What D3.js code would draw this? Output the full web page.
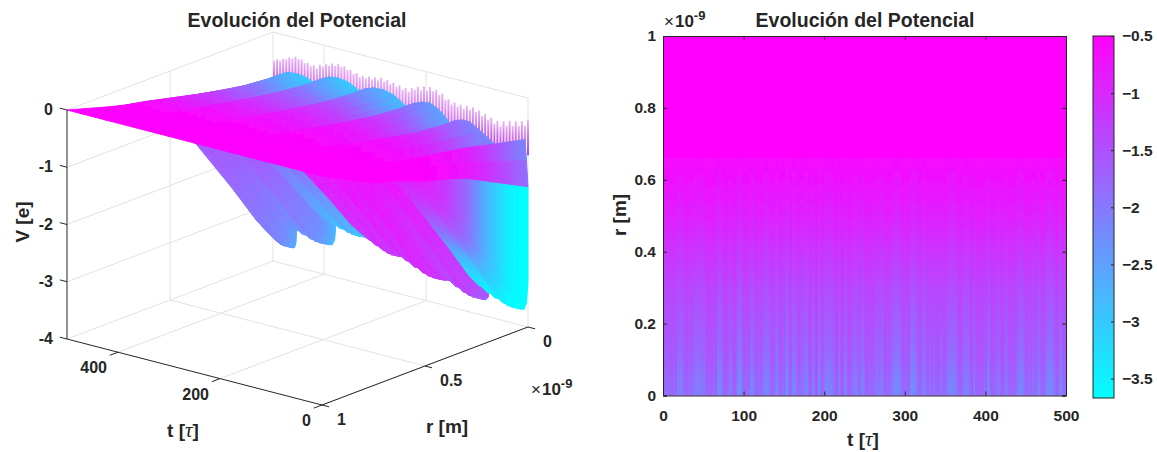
<!DOCTYPE html>
<html>
<head>
<meta charset="utf-8">
<script src="https://cdn.jsdelivr.net/npm/d3@7"></script>
<style>
  html, body { margin: 0; background: #fff; }
  svg { display: block; font-family: "Liberation Sans", Arial, sans-serif; }
  text { fill: #262626; font-weight: bold; }
  .tickTxt { font-size: 16px; }
  .axis text { font-size: 15.5px; font-family: "Liberation Sans", Arial, sans-serif; fill: #262626; }
  .axis path, .axis line { stroke: #262626; }
</style>
</head>
<body>
<div id="chart"></div>
<script>
// values
const titleText = "Evolución del Potencial";
const tTicks = [0, 200, 400];
const rTicks3d = [0, 0.5, 1];
const vTicks = [0, -1, -2, -3, -4];
const heatTTicks = [0, 100, 200, 300, 400, 500];
const heatRTicks = [0, 0.2, 0.4, 0.6, 0.8, 1];
const barTicks = [-0.5, -1, -1.5, -2, -2.5, -3, -3.5];

// upper sheet: V and colour at r = 0 for every t
const crestT = [500, 488, 472, 453, 437, 425, 418, 405, 390, 373, 355, 342, 330, 318, 302, 284, 265, 250, 237, 224, 208, 192, 176, 163, 153, 142, 128, 114, 95, 75, 61, 45, 6, 3, 0];
const crestV = [-0.85, -0.72, -0.64, -0.62, -0.64, -0.68, -0.72, -0.6, -0.53, -0.51, -0.53, -0.58, -0.64, -0.57, -0.52, -0.51, -0.55, -0.63, -0.72, -0.61, -0.55, -0.53, -0.6, -0.7, -0.79, -0.72, -0.68, -0.68, -0.78, -0.9, -0.98, -0.92, -0.74, -1.1, -1.55];
const crestC = [-2.4, -2.5, -2.7, -2.9, -3.0, -3.1, -3.15, -2.4, -2.6, -2.9, -3.0, -3.05, -3.05, -2.3, -2.5, -2.7, -2.8, -2.85, -2.85, -2.1, -2.25, -2.4, -2.5, -2.55, -2.55, -1.8, -1.95, -2.1, -2.15, -2.15, -2.2, -3.0, -2.4, -1.9, -1.8];
const upperR = [1, 0.75, 0.65, 0.5, 0.4, 0.3, 0.2, 0.1, 0.05, 0];
const shapeBack = [0, 0.32, 0.42, 0.6, 0.72, 0.83, 0.93, 0.98, 1, 1];
const shapeFront = [0, 0.3, 0.36, 0.5, 0.56, 0.64, 0.76, 0.88, 0.94, 1];
const tintBack = [0, 0.02, 0.08, 0.22, 0.34, 0.48, 0.62, 0.85, 0.93, 1];
const tintFront = [0, 0, 0, 0.03, 0.08, 0.2, 0.42, 0.72, 0.88, 1];

// deep lobes below the front edge
const lobeTL = [500, 453, 376, 306, 235, 153, 75];
const lobeTR = [453, 376, 306, 235, 153, 75, 0];
const lobeDepth = [-3.68, -3.46, -3.16, -3.34, -3.56, -3.72, -3.72];
const notchV = [-3.4, -3.27, -3.02, -3.09, -3.28, -3.44, -3.49, -3.2];
const lobeR = [0.65, 0.5, 0.4, 0.3, 0.2, 0.1, 0.05, 0];
const lobeShapeR = [0.1, 0.22, 0.38, 0.55, 0.72, 0.9, 0.97, 1];
const lobeU = [0, 0.2, 0.4, 0.6, 0.72, 0.82, 0.9, 0.96, 1];
const lobeWeight = [0, 0.35, 0.62, 0.85, 0.96, 1, 0.97, 0.75, 0];
const lobeStreak = [0.12, 0.04, -0.1, 0.05, 0.1, 0, -0.05, 0];
const lobeColor = [
  [-0.9, -1.4, -1.6, -1.75, -1.9, -2.1, -2.25, -2.6],
  [-0.9, -1.4, -1.6, -1.8, -2.0, -2.2, -2.4, -2.8],
  [-0.9, -1.5, -1.8, -2.1, -2.4, -2.7, -2.95, -3.1],
  [-0.55, -0.7, -0.8, -0.9, -1.0, -1.1, -1.2, -1.3],
  [-0.55, -0.65, -0.75, -0.85, -0.95, -1.05, -1.15, -1.2],
  [-0.55, -0.7, -0.85, -1.0, -1.15, -1.3, -1.5, -1.6],
  [-0.6, -0.9, -1.2, -1.8, -2.75, -3.45, -3.62, -3.67]
];

// thin spikes at r = 0, tip V from t = 498 down to t = 0
const spikeT = d3.range(498, -1, -6);
const spikeTip = [-0.5, -0.46, -0.47, -0.42, -0.42, -0.37, -0.38, -0.33, -0.36, -0.35, -0.4, -0.38, -0.43, -0.4, -0.44, -0.36, -0.38, -0.32, -0.34, -0.28, -0.31,
  -0.26, -0.3, -0.28, -0.33, -0.31, -0.37, -0.34, -0.4, -0.36, -0.39, -0.34, -0.38, -0.33, -0.37, -0.31, -0.36, -0.32, -0.38, -0.34, -0.4, -0.36,
  -0.42, -0.38, -0.43, -0.35, -0.37, -0.3, -0.35, -0.27, -0.33, -0.25, -0.31, -0.27, -0.35, -0.31, -0.41, -0.38, -0.46, -0.41, -0.47, -0.42, -0.48,
  -0.41, -0.47, -0.41, -0.48, -0.44, -0.52, -0.47, -0.56, -0.51, -0.6, -0.54, -0.62, -0.52, -0.58, -0.48, -0.56, -0.46, -0.53, -0.43, -0.5, -0.38];

// heatmap: value at r = 0 for each 2.5 tau column, same r shape for all
const stripeV = [
  -1.6, -1.8, -1.9, -1.7, -1.55, -1.9, -1.7, -2.2, -2.3, -2.2, -1.9, -1.55, -1.8, -1.95, -1.7, -2.2, -2.3, -2.3, -2.2, -2.3,
  -2.1, -1.8, -1.55, -1.85, -1.6, -1.9, -1.7, -2.7, -2.6, -2.0, -1.7, -1.55, -1.9, -2.3, -1.8, -1.55, -1.85, -2.7, -2.7, -1.9,
  -1.6, -1.85, -1.55, -2.3, -2.3, -1.8, -1.55, -1.85, -1.6, -1.9, -2.2, -2.3, -2.2, -1.7, -1.55, -1.9, -2.4, -1.8, -1.55, -1.85,
  -1.8, -2.7, -1.8, -1.55, -2.3, -2.3, -1.8, -1.55, -1.85, -1.9, -2.3, -2.3, -1.7, -1.55, -2.4, -1.7, -1.55, -2.7, -1.8, -1.7,
  -2.3, -2.4, -2.4, -2.3, -2.3, -1.8, -1.55, -2.3, -1.8, -1.55, -2.7, -1.8, -1.55, -1.85, -2.2, -2.3, -2.2, -1.7, -2.3, -2.3,
  -1.8, -1.55, -1.85, -1.6, -1.85, -1.9, -2.3, -1.8, -2.4, -1.8, -1.55, -1.85, -1.6, -1.9, -2.3, -2.4, -2.4, -2.3, -1.8, -1.55,
  -1.85, -1.6, -1.8, -2.7, -2.3, -2.3, -1.8, -1.55, -1.85, -2.4, -1.8, -1.55, -1.85, -1.6, -1.9, -1.7, -1.55, -1.85, -1.95, -1.7,
  -1.8, -2.3, -2.4, -2.4, -2.3, -2.3, -1.8, -1.55, -1.8, -2.3, -2.4, -2.3, -1.8, -1.55, -2.4, -1.7, -1.55, -1.85, -1.6, -1.9,
  -1.8, -2.7, -1.8, -1.55, -1.85, -1.9, -2.4, -1.7, -1.55, -1.8, -2.4, -1.7, -1.55, -1.85, -1.6, -1.9, -2.3, -2.4, -2.3, -1.8,
  -1.55, -1.85, -1.6, -1.85, -1.9, -1.7, -2.4, -1.8, -1.55, -1.8, -2.3, -2.4, -2.4, -2.3, -1.8, -1.55, -1.85, -2.4, -1.8, -1.7
];
const stripeStep = 2.5;
const stripeMean = -2.05;
const heatR = [0.663, 0.66, 0.6, 0.5, 0.4, 0.3, 0.2, 0.1, 0.05, 0];
const heatShape = [0, 0.08, 0.15, 0.28, 0.45, 0.61, 0.73, 0.84, 0.93, 1];
const heatContrast = [0, 0.08, 0.1, 0.12, 0.16, 0.22, 0.32, 0.5, 0.58, 0.6];

const W = 1157, H = 452;
const svg = d3.select("#chart").append("svg").attr("width", W).attr("height", H);
const defs = svg.append("defs");

// MATLAB cool colormap, clipped like caxis
const cool = d3.scaleLinear().domain([-3.67, -0.5]).range(["#00ffff", "#ff00ff"]).clamp(true);

// 3D projection: each data axis adds its own screen offset to the front floor corner
const tx = d3.scaleLinear([0, 500], [0, -255]);
const ty = d3.scaleLinear([0, 500], [0, -66]);
const rx = d3.scaleLinear([1, 0], [0, 206]);
const ry = d3.scaleLinear([1, 0], [0, -78]);
const vy = d3.scaleLinear([0, -4], [-229, 0]);
const project = (t, r, v) => [322 + tx(t) + rx(r), 405 + ty(t) + ry(r) + vy(v)];

const left = svg.append("g");
const line3d = pts => d3.line()(pts.map(p => project(p[0], p[1], p[2])));

// walls and floor
const grid = left.append("g").attr("fill", "none").attr("stroke", "#e2e2e2").attr("stroke-width", 1);
vTicks.forEach(v => {
  grid.append("path").attr("d", line3d([[500, 1, v], [500, 0, v], [0, 0, v]]));
});
grid.append("path").attr("d", line3d([[500, 0.5, 0], [500, 0.5, -4], [0, 0.5, -4]]));
tTicks.forEach(t => {
  grid.append("path").attr("d", line3d([[t, 0, 0], [t, 0, -4], [t, 1, -4]]));
});
grid.append("path").attr("d", line3d([[500, 0, 0], [500, 0, -4]]));

defs.append("filter").attr("id", "softAll").attr("x", "-5%").attr("y", "-5%").attr("width", "110%").attr("height", "110%")
  .append("feGaussianBlur").attr("stdDeviation", 0.5);

// spikes along the back edge
const spikeGrad = defs.append("linearGradient").attr("id", "spikeGrad").attr("x1", 0).attr("x2", 0).attr("y1", 0).attr("y2", 1);
spikeGrad.append("stop").attr("offset", 0).attr("stop-color", "#eab8f6");
spikeGrad.append("stop").attr("offset", 0.5).attr("stop-color", "#d070ee");
spikeGrad.append("stop").attr("offset", 1).attr("stop-color", "#b040f5");
left.append("g").attr("filter", "url(#softAll)").selectAll("rect").data(spikeT).join("rect")
  .attr("x", t => project(t, 0, 0)[0] - 1)
  .attr("y", (t, i) => project(t, 0, spikeTip[i])[1])
  .attr("width", 2)
  .attr("height", (t, i) => project(t, 0, -1.0)[1] - project(t, 0, spikeTip[i])[1])
  .attr("fill", "url(#spikeGrad)");

let gradId = 0;
// gradient running along the r direction of the surface
function rGradient(tMid, rs, colors) {
  const id = "g" + (gradId++);
  const x1 = project(tMid, rs[0], 0)[0], x2 = project(tMid, rs[rs.length - 1], 0)[0];
  const g = defs.append("linearGradient").attr("id", id).attr("gradientUnits", "userSpaceOnUse")
    .attr("x1", x1).attr("x2", x2).attr("y1", 0).attr("y2", 0);
  rs.forEach((r, i) => {
    g.append("stop").attr("offset", (rs[0] - r) / (rs[0] - rs[rs.length - 1])).attr("stop-color", cool(colors[i]));
  });
  return "url(#" + id + ")";
}

const surface = left.append("g").attr("stroke-linejoin", "round").attr("filter", "url(#softAll)");

function band(pts, fill) {
  surface.append("path").attr("d", line3d(pts) + "Z").attr("fill", fill).attr("stroke", fill).attr("stroke-width", 1);
}

// deep lobes, back to front; cross section runs notch, bottom, next notch
const bottomIndex = lobeWeight.indexOf(1);
const lobeAt = (i, j) => {
  const edge = j <= bottomIndex ? notchV[i] : notchV[i + 1];
  return edge + (lobeDepth[i] - edge) * lobeWeight[j];
};
lobeTL.forEach((tL, i) => {
  const tR = lobeTR[i];
  const tAt = u => tL + (tR - tL) * u;
  lobeU.slice(1).forEach((u, j) => {
    const t0 = tAt(lobeU[j]), t1 = tAt(u);
    const a = lobeR.map((r, k) => [t0, r, lobeAt(i, j) * lobeShapeR[k]]);
    const b = lobeR.map((r, k) => [t1, r, lobeAt(i, j + 1) * lobeShapeR[k]]).reverse();
    const colors = lobeColor[i].map((c, k) => c + lobeStreak[j] * lobeShapeR[k]);
    band(a.concat(b), rGradient((t0 + t1) / 2, lobeR, colors));
  });
});

// upper sheet uses a flatter r shape towards the back, the steadier one only near t = 0
const sheetShape = (t, k) => {
  const mix = Math.min(1, t / 60);
  return shapeBack[k] * mix + shapeFront[k] * (1 - mix);
};

// face between the last lobe and the t = 0 edge
const lastLobe = lobeTL.length - 1;
const wallOuter = lobeR.map((r, k) => [0, r, notchV[lastLobe + 1] * lobeShapeR[k]]);
const wallInner = lobeR.map(r => [0, r, crestV[crestV.length - 1] * sheetShape(0, upperR.indexOf(r))]).reverse();
band(wallOuter.concat(wallInner), rGradient(0, lobeR, lobeColor[lastLobe]));

// upper sheet, back to front
crestT.slice(1).forEach((t1, j) => {
  const t0 = crestT[j];
  const a = upperR.map((r, k) => [t0, r, crestV[j] * sheetShape(t0, k)]);
  const b = upperR.map((r, k) => [t1, r, crestV[j + 1] * sheetShape(t1, k)]).reverse();
  const c = (crestC[j] + crestC[j + 1]) / 2;
  const mix = (t0 + t1) / 1000;
  const tint = tintBack.map((f, k) => f * mix + tintFront[k] * (1 - mix));
  band(a.concat(b), rGradient((t0 + t1) / 2, upperR, tint.map(f => -0.5 + (c + 0.5) * f)));
});

// 3D axes
const ax = left.append("g").attr("fill", "none").attr("stroke", "#262626").attr("stroke-width", 1);
ax.append("path").attr("d", line3d([[500, 1, 0], [500, 1, -4], [0, 1, -4], [0, 0, -4]]));
vTicks.forEach(v => ax.append("path").attr("d", line3d([[500, 1, v], [514, 1, v]])));
tTicks.forEach(t => ax.append("path").attr("d", line3d([[t, 1, -4], [t, 1.04, -4]])));
rTicks3d.forEach(r => ax.append("path").attr("d", line3d([[0, r, -4], [-14, r, -4]])));

left.selectAll(".vLab").data(vTicks).join("text").attr("class", "tickTxt")
  .attr("x", v => project(500, 1, v)[0] - 14).attr("y", v => project(500, 1, v)[1] + 5)
  .attr("text-anchor", "end").text(d => d);
left.selectAll(".tLab").data(tTicks).join("text").attr("class", "tickTxt")
  .attr("x", t => project(t, 1, -4)[0] - 11).attr("y", t => project(t, 1, -4)[1] + 21)
  .attr("text-anchor", "end").text(d => d);
left.selectAll(".rLab").data(rTicks3d).join("text").attr("class", "tickTxt")
  .attr("x", r => project(0, r, -4)[0] + 15).attr("y", r => project(0, r, -4)[1] + 20)
  .attr("text-anchor", "start").text(d => d);

function tauLabel(g, x, y) {
  const t = g.append("text").attr("x", x).attr("y", y).attr("text-anchor", "middle").attr("font-size", 19);
  t.append("tspan").text("t [");
  t.append("tspan").attr("font-family", "'Liberation Serif', serif").attr("font-style", "italic").attr("font-weight", "normal").attr("font-size", 21).text("τ");
  t.append("tspan").text("]");
}
function exponent(g, x, y) {
  const t = g.append("text").attr("x", x).attr("y", y).attr("font-size", 17);
  t.append("tspan").attr("font-weight", "normal").text("×");
  t.append("tspan").attr("dx", 1).text("10");
  t.append("tspan").attr("dy", -7).attr("font-size", 13).text("-9");
}
function rotated(g, x, y, s) {
  g.append("text").attr("transform", `translate(${x},${y}) rotate(-90)`).attr("text-anchor", "middle").attr("font-size", 19).text(s);
}

tauLabel(left, 183, 437);
left.append("text").attr("x", 447).attr("y", 433).attr("text-anchor", "middle").attr("font-size", 19).text("r [m]");
rotated(left, 29, 222, "V [e]");
exponent(left, 531, 395);
left.append("text").attr("x", 297).attr("y", 27).attr("text-anchor", "middle").attr("font-size", 19.5).text(titleText);

// heatmap
const heat = svg.append("g");
const hx = d3.scaleLinear([0, 500], [663, 1066]);
const hy = d3.scaleLinear([0, 1], [395.5, 36]);

heat.append("rect").attr("x", hx(0)).attr("y", hy(1)).attr("width", hx(500) - hx(0)).attr("height", hy(0) - hy(1)).attr("fill", cool(-0.5));
stripeV.forEach((s, k) => {
  const g = defs.append("linearGradient").attr("id", "col" + k).attr("x1", 0).attr("x2", 0).attr("y1", 0).attr("y2", 1);
  heatR.forEach((r, i) => {
    const v = -0.5 + (stripeMean + 0.5) * heatShape[i] + (s - stripeMean) * heatContrast[i];
    g.append("stop").attr("offset", (heatR[0] - r) / heatR[0]).attr("stop-color", cool(v));
  });
});
defs.append("filter").attr("id", "soft").append("feGaussianBlur").attr("stdDeviation", "0.4 0");
heat.append("g").attr("filter", "url(#soft)").selectAll("rect").data(stripeV).join("rect")
  .attr("x", (s, k) => hx(k * stripeStep))
  .attr("y", hy(heatR[0]))
  .attr("width", hx(stripeStep) - hx(0) + 0.3)
  .attr("height", hy(0) - hy(heatR[0]))
  .attr("fill", (s, k) => `url(#col${k})`);

const tickIn = 4;
heat.append("g").attr("class", "axis").attr("transform", `translate(0,${hy(0)})`)
  .call(d3.axisBottom(hx).tickValues(heatTTicks).tickSize(-tickIn).tickPadding(14.5));
heat.append("g").attr("class", "axis").attr("transform", `translate(0,${hy(1)})`)
  .call(d3.axisTop(hx).tickValues(heatTTicks).tickSize(-tickIn).tickFormat(""));
heat.append("g").attr("class", "axis").attr("transform", `translate(${hx(0)},0)`)
  .call(d3.axisLeft(hy).tickValues(heatRTicks).tickSize(-tickIn).tickPadding(7).tickFormat(d3.format("~g")));
heat.append("g").attr("class", "axis").attr("transform", `translate(${hx(500)},0)`)
  .call(d3.axisRight(hy).tickValues(heatRTicks).tickSize(-tickIn).tickFormat(""));
tauLabel(heat, 863, 446);
rotated(heat, 626, 215, "r [m]");
exponent(heat, 664, 27);
heat.append("text").attr("x", 865).attr("y", 27).attr("text-anchor", "middle").attr("font-size", 19.5).text(titleText);

// colorbar
const barY = d3.scaleLinear([-0.5, -3.67], [36, 398]);
const barGrad = defs.append("linearGradient").attr("id", "barGrad").attr("x1", 0).attr("x2", 0).attr("y1", 0).attr("y2", 1);
barGrad.append("stop").attr("offset", 0).attr("stop-color", cool(-0.5));
barGrad.append("stop").attr("offset", 1).attr("stop-color", cool(-3.67));
svg.append("rect").attr("x", 1093).attr("y", barY(-0.5)).attr("width", 21).attr("height", barY(-3.67) - barY(-0.5))
  .attr("fill", "url(#barGrad)").attr("stroke", "#262626");
svg.append("g").attr("class", "axis").attr("transform", "translate(1114,0)")
  .call(d3.axisRight(barY).tickValues(barTicks).tickSize(-3).tickPadding(8).tickFormat(d3.format("~g")))
  .call(g => g.select(".domain").remove());
d3.selectAll(".axis text").style("font-weight", "bold");
</script>
</body>
</html>
